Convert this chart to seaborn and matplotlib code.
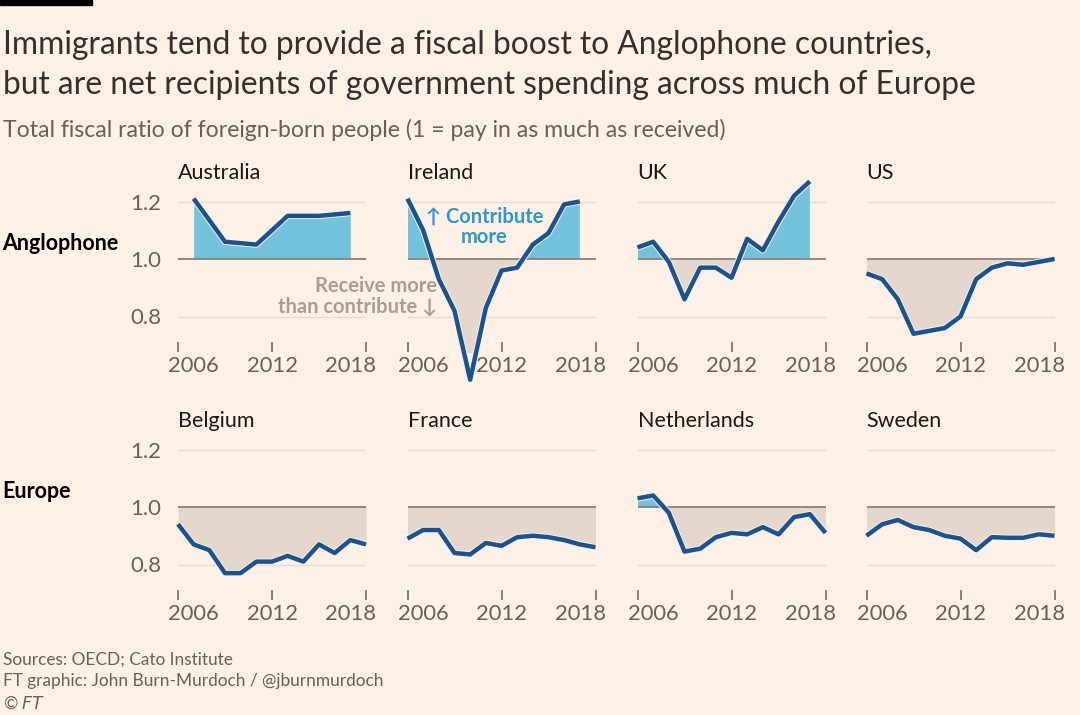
import numpy as np
import pandas as pd
import matplotlib
matplotlib.use("Agg")
import matplotlib.pyplot as plt
import matplotlib.patheffects as pe
from matplotlib.transforms import ScaledTranslation
import seaborn as sns

# values (total fiscal ratio of foreign-born people)
years_au = [2007, 2009, 2011, 2013, 2015, 2017]
australia = [1.21, 1.06, 1.05, 1.15, 1.15, 1.16]

years_ie = list(range(2006, 2018))
ireland = [1.21, 1.10, 0.93, 0.82, 0.58, 0.83, 0.96, 0.97, 1.05, 1.09, 1.19, 1.20]

years_uk = list(range(2006, 2018))
uk = [1.04, 1.06, 0.99, 0.86, 0.97, 0.97, 0.935, 1.07, 1.03, 1.13, 1.22, 1.27]

years_full = list(range(2006, 2019))
us = [0.95, 0.93, 0.86, 0.74, 0.75, 0.76, 0.80, 0.93, 0.97, 0.985, 0.98, 0.99, 1.0]
belgium = [0.94, 0.87, 0.85, 0.77, 0.77, 0.81, 0.81, 0.83, 0.81, 0.87, 0.84, 0.885, 0.87]
france = [0.89, 0.92, 0.92, 0.84, 0.835, 0.875, 0.865, 0.895, 0.90, 0.895, 0.885, 0.87, 0.86]
netherlands = [1.03, 1.04, 0.98, 0.845, 0.855, 0.895, 0.91, 0.905, 0.93, 0.905, 0.965, 0.975, 0.91]
sweden = [0.90, 0.94, 0.955, 0.93, 0.92, 0.90, 0.89, 0.85, 0.895, 0.893, 0.893, 0.905, 0.90]

countries = ["Australia", "Ireland", "UK", "US", "Belgium", "France", "Netherlands", "Sweden"]
row_labels = ["Anglophone", "Europe"]
x_ticks = [2006, 2012, 2018]
y_ticks = [0.8, 1.0, 1.2]

series = [
    (years_au, australia), (years_ie, ireland), (years_uk, uk), (years_full, us),
    (years_full, belgium), (years_full, france), (years_full, netherlands), (years_full, sweden),
]

BG = "#FFF1E5"
LINE = "#1A5490"
ABOVE = "#74C3DC"
BELOW = "#E5D7CB"
TXT = "#33302E"
GREY = "#66605C"

sns.set_theme(style="white", rc={"axes.facecolor": BG, "figure.facecolor": BG})
plt.rcParams["font.family"] = ["Lato", "DejaVu Sans"]

fig = plt.figure(figsize=(10.8, 7.15), dpi=100)

W, H = 1080, 715
col_left = [178, 407.5, 637.5, 866.5]
ax_w = 188
row_top = [172.75, 420.75]
ax_h = 179.25
y_lo = 1 - (352 - 259) / 287.5
y_hi = 1 + (259 - 172.75) / 287.5
label_shift = [15.5, 0, -15]

for i, (name, (yrs, vals)) in enumerate(zip(countries, series)):
    r, c = divmod(i, 4)
    ax = fig.add_axes([col_left[c] / W, 1 - (row_top[r] + ax_h) / H, ax_w / W, ax_h / H])
    ax.set_xlim(2006, 2018)
    ax.set_ylim(y_lo, y_hi)
    df = pd.DataFrame({"year": yrs, "ratio": vals})
    x = df["year"].to_numpy(dtype=float)
    y = df["ratio"].to_numpy()
    ax.fill_between(x, 1.0, y, where=y >= 1.0, interpolate=True, color=ABOVE, lw=0, zorder=2)
    ax.fill_between(x, 1.0, y, where=y <= 1.0, interpolate=True, color=BELOW, lw=0, zorder=2)
    for gv in y_ticks:
        ax.axhline(gv, color="#8A817A" if gv == 1.0 else "#E9DCD1",
                   lw=1.3 if gv == 1.0 else 1.0, zorder=1 if gv != 1.0 else 3)
    sns.lineplot(data=df, x="year", y="ratio", ax=ax, color=LINE, lw=3.2,
                 zorder=4, clip_on=False, solid_capstyle="butt",
                 path_effects=[pe.Stroke(linewidth=4.6, foreground="#F7F1EC"), pe.Normal()])
    for s in ax.spines.values():
        s.set_visible(False)
    ax.set_xlabel("")
    ax.set_ylabel("")
    ax.set_xticks(x_ticks)
    ax.set_xticklabels([str(t) for t in x_ticks])
    ax.tick_params(axis="x", bottom=True, direction="in", length=7, width=1.1, color=GREY,
                   labelsize=15.8, labelcolor=GREY, pad=3)
    for lab, dx in zip(ax.get_xticklabels(), label_shift):
        lab.set_transform(lab.get_transform() + ScaledTranslation(dx / 100, 0, fig.dpi_scale_trans))
    ax.set_yticks(y_ticks)
    if c == 0:
        ax.set_yticklabels(["0.8", "1.0", "1.2"])
        ax.tick_params(axis="y", left=False, labelsize=16, labelcolor=GREY, pad=6)
    else:
        ax.set_yticklabels([])
        ax.tick_params(axis="y", left=False)
    ax.text(0, 1.0, name, transform=ax.transAxes, ha="left", va="center",
            fontsize=15.5, color="#1A1817")

    if name == "Ireland":
        ax.text(2010.9, 1.111, "\u2191 Contribute\nmore", ha="center", va="center",
                fontsize=14.5, fontweight="bold", color="#2A9AD0", linespacing=1.0,
                zorder=5)
        ax.text(2007.9, 0.871, "Receive more\nthan contribute \u2193", ha="right", va="center",
                fontsize=14.5, fontweight="bold", color="#A89E96", linespacing=1.0,
                zorder=5)

for r, lab in enumerate(row_labels):
    fig.text(2 / W, 1 - (243 + r * 248) / H, lab, ha="left", va="center",
             fontsize=15.5, fontweight="bold", color="#000000")

# title block
fig.patches.append(plt.Rectangle((0, 1 - 5 / H), 92 / W, 5 / H, transform=fig.transFigure,
                                 color="#000000", zorder=5))
fig.text(3 / W, 1 - 45 / H, "Immigrants tend to provide a fiscal boost to Anglophone countries,",
         ha="left", va="center", fontsize=22.9, color=TXT)
fig.text(3 / W, 1 - 85 / H, "but are net recipients of government spending across much of Europe",
         ha="left", va="center", fontsize=22.9, color=TXT)
fig.text(3 / W, 1 - 130 / H, "Total fiscal ratio of foreign-born people (1 = pay in as much as received)",
         ha="left", va="center", fontsize=16.6, color=GREY)

fig.text(3 / W, 1 - 660 / H, "Sources: OECD; Cato Institute", ha="left", va="center",
         fontsize=12.4, color=GREY)
fig.text(3 / W, 1 - 681 / H, "FT graphic: John Burn-Murdoch / @jburnmurdoch", ha="left",
         va="center", fontsize=12.4, color=GREY)
fig.text(3 / W, 1 - 703 / H, "\u00a9 $\\it{FT}$", ha="left", va="center", fontsize=12.4, color=GREY)

fig.savefig("out.png", dpi=100, facecolor=BG)
